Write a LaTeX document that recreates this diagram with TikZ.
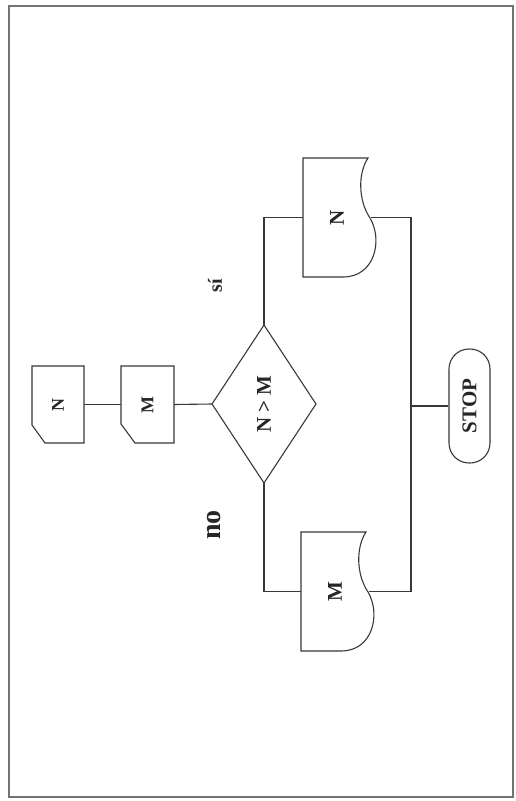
\documentclass[tikz,border=0pt]{standalone}
\usepackage{fontspec}
\setmainfont{Liberation Serif}
\usepackage{graphicx}
\usetikzlibrary{calc}
\newcommand\docshape[1]{%
  \draw[ln] (#1.north west) -- ($(#1.north west)+(65,0)$)
    .. controls ($(#1.north west)+(55,15)$) and ($(#1.north west)+(55,42)$) .. ($(#1.north west)+(67,60)$)
    .. controls ($(#1.north west)+(80,82)$) and ($(#1.north west)+(72,119)$) .. ($(#1.north west)+(40,119)$)
    -- (#1.south west) -- cycle;}
\begin{document}
\begin{tikzpicture}[x=1pt,y=-1pt,
  ln/.style={draw=black!78, line width=1.1pt},
  holder/.style={draw=none, inner sep=0pt, outer sep=0pt, text=black!85},
  cardtxt/.style={font=\bfseries\fontsize{18}{21}\selectfont},
  bigtxt/.style={font=\bfseries\fontsize{21}{25}\selectfont}
]
\useasboundingbox (0,0) rectangle (515,801);
\draw[draw=black!55, line width=1.6pt] (9,6) rectangle (513,797);

% cards
\node[holder, cardtxt, minimum width=52pt, minimum height=77pt] (cN) at (58,404.5) {\rotatebox{90}{N}};
\draw[ln] (cN.north west) -- (cN.north east) -- (cN.south east) -- ($(cN.south west)+(13,0)$) -- ($(cN.south west)+(0,-18)$) -- cycle;
\node[holder, cardtxt, minimum width=53pt, minimum height=77pt] (cM) at (147.5,404.5) {\rotatebox{90}{M}};
\draw[ln] (cM.north west) -- (cM.north east) -- (cM.south east) -- ($(cM.south west)+(14,0)$) -- ($(cM.south west)+(0,-19)$) -- cycle;

% decision
\node[holder, bigtxt, minimum width=104pt, minimum height=158pt] (dia) at (264,404) {\rotatebox{90}{N > M}};
\draw[ln] (dia.north) -- (dia.east) -- (dia.south) -- (dia.west) -- cycle;

% documents
\node[holder, bigtxt, minimum width=68pt, minimum height=119pt] (dN) at (337,217.5) {\rotatebox{90}{N}};
\docshape{dN}
\node[holder, bigtxt, minimum width=68pt, minimum height=119pt] (dM) at (335,591.5) {\rotatebox{90}{M}};
\docshape{dM}

% stop
\node[draw=black!78, line width=1.1pt, rounded corners=20pt, inner sep=0pt, minimum width=41pt, minimum height=114pt, bigtxt, text=black!85] (stop) at (469.5,406) {\rotatebox{90}{STOP}};

% labels
\node[holder, font=\bfseries\fontsize{20}{24}\selectfont] (si) at (215,286) {\rotatebox{90}{sí}};
\node[holder, font=\bfseries\fontsize{28}{31}\selectfont] (no) at (214,525) {\rotatebox{90}{no}};

% connectors
\coordinate (j) at (411,406);
\draw[ln] (cN.east) -- (cM.west);
\draw[ln] (cM.east) -- (dia.west);
\draw[ln] (dia.north) |- (dN.west);
\draw[ln] (dia.south) |- (dM.west);
\draw[ln] (dN.east) -| (j) |- (dM.east);
\draw[ln] (j) -- (stop.west);
\end{tikzpicture}
\end{document}
